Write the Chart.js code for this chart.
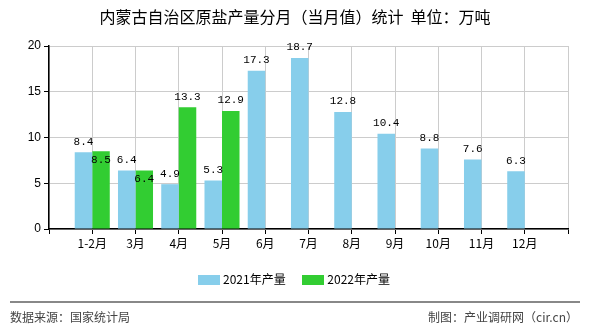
<!DOCTYPE html>
<html>
<head>
<meta charset="utf-8">
<script src="https://cdn.jsdelivr.net/npm/chart.js@4/dist/chart.umd.min.js"></script>
<style>
  body { margin: 0; background: #fff; font-family: "Noto Sans CJK SC", sans-serif; }
  #wrap { position: relative; width: 590px; height: 330px; overflow: hidden; }
  #title { position: absolute; left: 0; width: 590px; top: 4px; text-align: center; font-size: 16px; color: #000; }
  #legend { position: absolute; left: 198px; top: 270px; font-size: 12px; color: #000; white-space: nowrap; }
  #legend span.box { display: inline-block; width: 22px; height: 10px; vertical-align: -1px; margin-right: 3px; }
  #legend span.item { margin-right: 14px; }
  #line { position: absolute; left: 10px; top: 301px; width: 570px; height: 0; border-top: 2px solid #888; }
  .foot { position: absolute; top: 308px; font-size: 12px; color: #444; }
</style>
</head>
<body>
<div id="wrap">
  <canvas id="grafico" width="590" height="330"></canvas>
  <div id="title">内蒙古自治区原盐产量分月（当月值）统计&nbsp;&nbsp;单位：万吨</div>
  <div id="legend">
    <span class="item"><span class="box" style="background:#87CEEB"></span>2021年产量</span>
    <span class="item"><span class="box" style="background:#32CD32"></span>2022年产量</span>
  </div>
  <div id="line"></div>
  <div class="foot" style="left:10px">数据来源：国家统计局</div>
  <div class="foot" style="right:12px">制图：产业调研网（cir.cn）</div>
</div>
<script>
// datos
const meses = ['1-2月', '3月', '4月', '5月', '6月', '7月', '8月', '9月', '10月', '11月', '12月'];
const produccion2021 = [8.4, 6.4, 4.9, 5.3, 17.3, 18.7, 12.8, 10.4, 8.8, 7.6, 6.3];
const produccion2022 = [8.5, 6.4, 13.3, 12.9, null, null, null, null, null, null, null];

// las etiquetas van sobre las lineas de la rejilla, con un hueco vacio a cada lado
const etiquetas = ['', ...meses, ''];
const serie21 = [null, ...produccion2021, null];
const serie22 = [null, ...produccion2022, null];

const etiquetasValor = {
  id: 'etiquetasValor',
  afterDatasetsDraw(chart) {
    const ctx = chart.ctx;
    ctx.save();
    ctx.font = '11px "Liberation Mono", monospace';
    ctx.fillStyle = '#000';
    ctx.textAlign = 'center';
    chart.data.datasets.forEach((ds, di) => {
      chart.getDatasetMeta(di).data.forEach((bar, i) => {
        const v = ds.data[i];
        if (v == null) return;
        const otro = chart.data.datasets[1 - di].data[i];
        const dentro = di === 1 && otro != null && Math.abs(otro - v) < 2;
        if (dentro) {
          ctx.textBaseline = 'top';
          ctx.fillText(v.toFixed(1), bar.x, bar.y + 3);
        } else {
          ctx.textBaseline = 'bottom';
          ctx.fillText(v.toFixed(1), bar.x, bar.y - 5);
        }
      });
    });
    ctx.restore();
  }
};

new Chart(document.getElementById('grafico'), {
  type: 'bar',
  data: {
    labels: etiquetas,
    datasets: [
      { label: '2021年产量', data: serie21, backgroundColor: '#87CEEB', categoryPercentage: 0.81, barPercentage: 1 },
      { label: '2022年产量', data: serie22, backgroundColor: '#32CD32', categoryPercentage: 0.81, barPercentage: 1 }
    ]
  },
  options: {
    responsive: false,
    animation: false,
    layout: { padding: { top: 46, right: 22, bottom: 79, left: 0 } },
    plugins: { legend: { display: false }, title: { display: false }, tooltip: { enabled: false } },
    scales: {
      x: {
        offset: false,
        grid: { offset: false, color: '#ccc', tickColor: '#000', tickLength: 5 },
        border: { color: '#000', width: 1.5 },
        ticks: { color: '#000', autoSkip: false, maxRotation: 0, padding: 2, font: { size: 12, family: '"Noto Sans CJK SC", sans-serif' } },
        afterFit(s) { s.height = 22; }
      },
      y: {
        min: 0,
        max: 20,
        ticks: { stepSize: 5, color: '#000', padding: 3, font: { size: 12, family: '"Liberation Sans", sans-serif' } },
        grid: { color: '#ccc', tickColor: '#000', tickLength: 5 },
        border: { color: '#000', width: 1.5 },
        afterFit(s) { s.width = 49; }
      }
    }
  },
  plugins: [etiquetasValor]
});
</script>
</body>
</html>
